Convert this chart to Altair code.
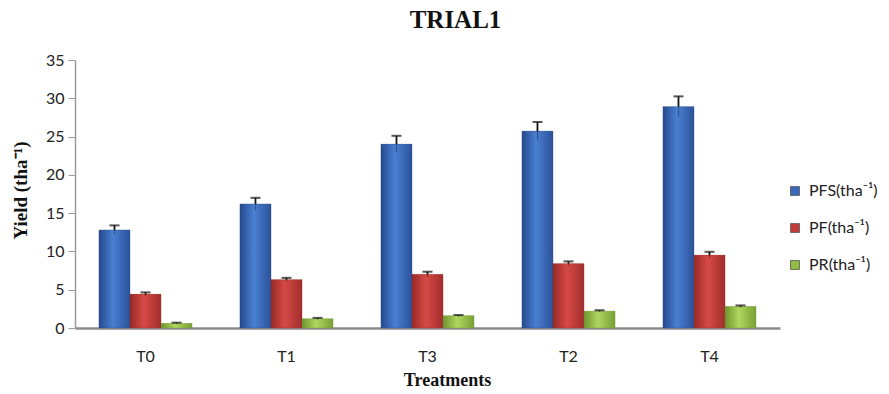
import altair as alt
import pandas as pd

# Yield per treatment (t/ha) with standard errors
treatments = ["T0", "T1", "T3", "T2", "T4"]
series = ["PFS(tha⁻¹)", "PF(tha⁻¹)", "PR(tha⁻¹)"]
pfs = [12.8, 16.2, 24.0, 25.7, 28.9]
pf = [4.4, 6.3, 7.0, 8.4, 9.5]
pr = [0.6, 1.2, 1.6, 2.2, 2.8]
pfs_err = [0.6, 0.8, 1.1, 1.2, 1.35]
pf_err = [0.25, 0.25, 0.35, 0.3, 0.45]
pr_err = [0.1, 0.12, 0.1, 0.12, 0.15]

base_colors = ["#3a67b8", "#c23b38", "#93bb45"]
shades = [
    ("#24498c", "#4a7fd2", "#2a5298"),
    ("#962a28", "#d64a46", "#a12e2c"),
    ("#6f9430", "#b0d65f", "#78a034"),
]

rows = []
for name, vals, errs in zip(series, [pfs, pf, pr], [pfs_err, pf_err, pr_err]):
    for t, v, e in zip(treatments, vals, errs):
        rows.append({"treatment": t, "series": name, "value": v,
                     "lo": v - e, "hi": v + e})
df = pd.DataFrame(rows)

PLOT_W, PLOT_H = 705, 268

x_enc = alt.X(
    "treatment:N", sort=treatments,
    scale=alt.Scale(paddingInner=0.34, paddingOuter=0.17),
    axis=alt.Axis(
        title="Treatments", labelAngle=0, ticks=False,
        domainColor="#8c8c8c", domainWidth=2.5,
        labelFont="Lato", labelFontSize=16, labelColor="#222222",
        labelPadding=20,
        titleFont="Liberation Serif", titleFontSize=18, titleFontWeight="bold",
        titleColor="#111111", titleX=372, titleY=52, titleBaseline="middle",
        titleAnchor="start", titleAlign="center",
    ),
)
xo_enc = alt.XOffset(
    "series:N", sort=series,
    scale=alt.Scale(domain=series, paddingInner=0, paddingOuter=0),
)
y_scale = alt.Scale(domain=[0, 35], nice=False)
y_axis = alt.Axis(
    title="Yield  (tha⁻¹)", values=list(range(0, 36, 5)), grid=False,
    labelOverlap=False,
    domainColor="#9a9a9a", domainWidth=1.5, tickColor="#9a9a9a", tickSize=7,
    labelFont="Lato", labelFontSize=16, labelColor="#222222", labelPadding=4,
    titleFont="Liberation Serif", titleFontSize=19, titleFontWeight="bold",
    titleColor="#111111", titleX=-55, titleY=130, titleBaseline="middle",
    titleAlign="center", titleAngle=-90,
)


def y_of(field):
    return alt.Y(f"{field}:Q", scale=y_scale, axis=y_axis)


base = alt.Chart(df)

solid = base.mark_bar().encode(
    x=x_enc, xOffset=xo_enc, y=y_of("value"),
    color=alt.Color(
        "series:N", sort=series,
        scale=alt.Scale(domain=series, range=base_colors),
        legend=alt.Legend(
            title=None, orient="none", legendX=712, legendY=123,
            symbolType="square", symbolSize=80, symbolStrokeWidth=0.8,
            symbolStrokeColor="#555555",
            labelFont="Lato", labelFontSize=16, labelColor="#222222",
            rowPadding=21, labelOffset=6,
        ),
    ),
)

shaded = []
for name, (edge, mid, edge2) in zip(series, shades):
    grad = alt.LinearGradient(
        gradient="linear", x1=0, x2=1, y1=0, y2=0,
        stops=[
            alt.GradientStop(color=edge, offset=0),
            alt.GradientStop(color=mid, offset=0.45),
            alt.GradientStop(color=edge2, offset=1),
        ],
    )
    shaded.append(
        base.transform_filter(alt.datum.series == name)
        .mark_bar(color=grad, stroke=edge, strokeWidth=0.6, strokeOpacity=0.6)
        .encode(x=x_enc, xOffset=xo_enc, y=y_of("value"))
    )

err_lower = base.mark_rule(color="#000000", strokeWidth=1.2, opacity=0.3).encode(
    x=x_enc, xOffset=xo_enc, y=y_of("lo"), y2="value:Q",
)
err_upper = base.mark_rule(color="#111111", strokeWidth=1.8).encode(
    x=x_enc, xOffset=xo_enc, y=y_of("value"), y2="hi:Q",
)
err_cap = base.mark_tick(color="#111111", thickness=2, size=10).encode(
    x=x_enc, xOffset=xo_enc, y=y_of("hi"),
)

chart = alt.layer(solid, *shaded, err_lower, err_upper, err_cap).properties(
    width=PLOT_W, height=PLOT_H,
    background="white",
    autosize=alt.AutoSizeParams(type="none"),
    padding={"left": 75, "top": 60, "right": 109, "bottom": 66},
    title=alt.TitleParams(
        "TRIAL1", font="Liberation Serif", fontSize=25, fontWeight="bold",
        color="#111111", anchor="middle", dx=28, offset=19,
    ),
).configure_view(stroke=None)

chart.save("out.html", embed_options={"renderer": "svg", "actions": False})
